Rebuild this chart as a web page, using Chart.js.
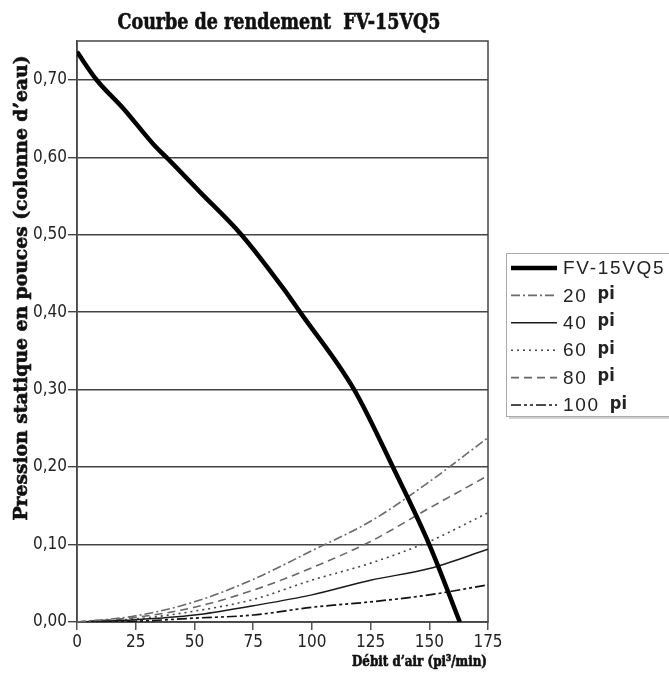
<!DOCTYPE html>
<html>
<head>
<meta charset="utf-8">
<script src="https://cdn.jsdelivr.net/npm/chart.js@4.4.1/dist/chart.umd.min.js"></script>
<style>
  html, body { margin: 0; padding: 0; background: #fff; }
</style>
</head>
<body>
<canvas id="courbe" width="669" height="673"></canvas>
<script>
// Courbe du ventilateur (débit en pi³/min, pression en po. d'eau)
var debitVentilateur = [0, 8.3, 20, 33, 38, 52.4, 70, 88, 95, 118, 134.5, 150, 163];
var pressionVentilateur = [0.736, 0.70, 0.662, 0.615, 0.60, 0.555, 0.50, 0.43, 0.40, 0.30, 0.20, 0.10, 0.0];

// Courbes de conduit selon la longueur
var debitConduit = [0, 25, 50, 75, 100, 125, 150, 175];
var pression20 = [0, 0.008, 0.026, 0.055, 0.092, 0.130, 0.181, 0.238];
var pression40 = [0, 0.003, 0.009, 0.021, 0.035, 0.054, 0.069, 0.094];
var pression60 = [0, 0.004, 0.014, 0.029, 0.054, 0.076, 0.104, 0.141];
var pression80 = [0, 0.006, 0.019, 0.041, 0.070, 0.104, 0.147, 0.189];
var pression100 = [0, 0.001, 0.005, 0.009, 0.019, 0.026, 0.035, 0.048];

var etiquettes = ['FV-15VQ5', '20 pi', '40 pi', '60 pi', '80 pi', '100 pi'];
var xTicks = [0, 25, 50, 75, 100, 125, 150, 175];
var yTicks = [0, 0.1, 0.2, 0.3, 0.4, 0.5, 0.6, 0.7];

var titre = 'Courbe de rendement  FV-15VQ5';
var titreY = 'Pression statique en pouces (colonne d\u2019eau)';
var titreX = 'Débit d\u2019air (pi³/min)';

function points(xs, ys) {
  return xs.map(function(x, i) { return { x: x, y: ys[i] }; });
}

var serifGras = '"DejaVu Serif Condensed", "DejaVu Serif", serif';
var etroite = '"Liberation Sans Narrow", "DejaVu Sans Condensed", sans-serif';

// écrit un texte en le serrant/étirant à la largeur voulue (un peu plus gras)
function texteLargeur(ctx, txt, x, y, largeur, angle) {
  var w = ctx.measureText(txt).width;
  ctx.save();
  ctx.translate(x, y);
  if (angle) ctx.rotate(angle);
  ctx.scale(largeur / w, 1);
  ctx.fillText(txt, 0, 0);
  ctx.strokeStyle = ctx.fillStyle;
  ctx.lineWidth = 0.6;
  ctx.strokeText(txt, 0, 0);
  ctx.restore();
}

// Titres, cadre et légende dessinés à la main
var decor = {
  id: 'decor',
  beforeDatasetsDraw: function(chart) {
    var ctx = chart.ctx, a = chart.chartArea;
    ctx.save();
    ctx.strokeStyle = '#444';
    ctx.lineWidth = 1.5;
    ctx.strokeRect(a.left, a.top, a.right - a.left, a.bottom - a.top);
    ctx.restore();
  },
  afterDraw: function(chart) {
    var ctx = chart.ctx;
    ctx.save();
    ctx.fillStyle = '#111';
    ctx.textAlign = 'center';
    ctx.textBaseline = 'middle';

    ctx.font = 'bold 23px ' + serifGras;
    texteLargeur(ctx, titre, 279, 23, 323);

    ctx.font = 'bold 19px ' + serifGras;
    texteLargeur(ctx, titreY, 22, 288, 465, -Math.PI / 2);

    ctx.font = 'bold 15px ' + serifGras;
    texteLargeur(ctx, titreX, 419.5, 662, 135);

    // légende
    var bx = 506, by = 253, bw = 175, bh = 163;
    ctx.fillStyle = '#d0d0d0';
    ctx.fillRect(bx + 3, by + 3, bw, bh);
    ctx.fillStyle = '#fff';
    ctx.fillRect(bx, by, bw, bh);
    ctx.strokeStyle = '#aaa';
    ctx.lineWidth = 1;
    ctx.strokeRect(bx + 0.5, by + 0.5, bw, bh);

    chart.data.datasets.forEach(function(ds, i) {
      var y = 268 + i * 27.4;
      ctx.save();
      ctx.strokeStyle = ds.borderColor;
      ctx.lineWidth = ds.borderWidth;
      ctx.setLineDash(ds.borderDash || []);
      ctx.beginPath();
      ctx.moveTo(511, y);
      ctx.lineTo(557, y);
      ctx.stroke();
      ctx.restore();

      var morceaux = ds.label.split(' ');
      ctx.fillStyle = '#222';
      ctx.textAlign = 'left';
      ctx.textBaseline = 'middle';
      ctx.font = '19px "Liberation Sans", Arial, sans-serif';
      ctx.letterSpacing = '1.7px';
      ctx.fillText(morceaux[0], 563, y + 1);
      if (morceaux[1]) {
        var w = ctx.measureText(morceaux[0]).width;
        ctx.letterSpacing = '0px';
        ctx.font = 'bold 18px ' + etroite;
        ctx.fillText(morceaux[1], 563 + w + 10, y - 1);
      }
      ctx.letterSpacing = '0px';
    });
    ctx.restore();
  }
};

var ctx = document.getElementById('courbe').getContext('2d');

var graphique = new Chart(ctx, {
  type: 'line',
  data: {
    datasets: [
      { label: etiquettes[0], data: points(debitVentilateur, pressionVentilateur),
        borderColor: '#000', borderWidth: 4.5 },
      { label: etiquettes[1], data: points(debitConduit, pression20),
        borderColor: '#6a6a6a', borderWidth: 1.6, borderDash: [9, 3, 2, 3] },
      { label: etiquettes[2], data: points(debitConduit, pression40),
        borderColor: '#1a1a1a', borderWidth: 1.5 },
      { label: etiquettes[3], data: points(debitConduit, pression60),
        borderColor: '#444', borderWidth: 1.6, borderDash: [2, 4] },
      { label: etiquettes[4], data: points(debitConduit, pression80),
        borderColor: '#666', borderWidth: 1.6, borderDash: [8, 5] },
      { label: etiquettes[5], data: points(debitConduit, pression100),
        borderColor: '#111', borderWidth: 1.7, borderDash: [10, 3, 3, 3, 3, 3] }
    ]
  },
  options: {
    responsive: false,
    animation: false,
    layout: { padding: { top: 41, right: 181, left: 0, bottom: 0 } },
    elements: {
      point: { radius: 0 },
      line: { cubicInterpolationMode: 'monotone', fill: false }
    },
    plugins: {
      legend: { display: false },
      title: { display: false },
      tooltip: { enabled: false }
    },
    scales: {
      x: {
        type: 'linear',
        min: 0,
        max: 175,
        afterBuildTicks: function(scale) {
          scale.ticks = xTicks.map(function(v) { return { value: v }; });
        },
        afterFit: function(scale) { scale.height = 51; },
        grid: { drawOnChartArea: false, tickLength: 8, color: '#555', lineWidth: 1.5 },
        border: { color: '#555', width: 1.5 },
        ticks: {
          color: '#222',
          padding: 2,
          maxRotation: 0,
          font: { family: etroite, size: 17 }
        }
      },
      y: {
        type: 'linear',
        min: 0,
        max: 0.75,
        afterBuildTicks: function(scale) {
          scale.ticks = yTicks.map(function(v) { return { value: v }; });
        },
        afterFit: function(scale) { scale.width = 77; },
        grid: { tickLength: 9, color: '#444', lineWidth: 1.4 },
        border: { color: '#555', width: 1.5 },
        ticks: {
          color: '#222',
          padding: 1,
          font: { family: etroite, size: 17 },
          callback: function(v) { return v.toFixed(2).replace('.', ','); }
        }
      }
    }
  },
  plugins: [decor]
});
</script>
</body>
</html>
